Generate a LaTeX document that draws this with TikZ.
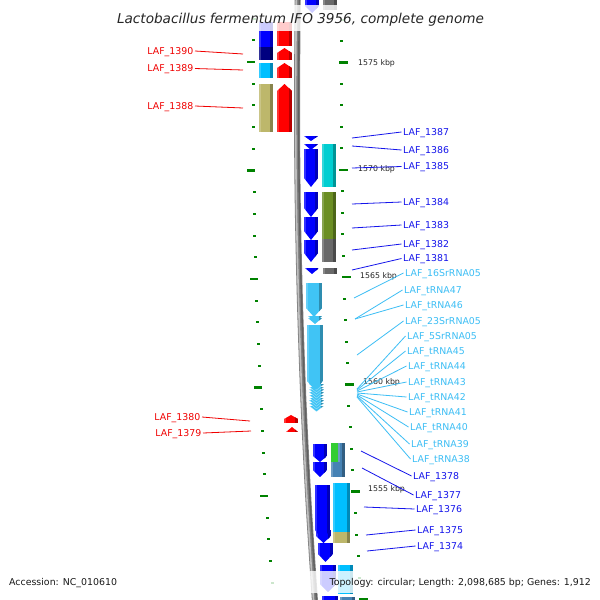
\documentclass[tikz,border=0pt]{standalone}
\usepackage{fontspec}
\setmainfont{DejaVu Sans}
\definecolor{genblue}{RGB}{0,0,255}
\definecolor{navyc}{RGB}{0,0,128}
\definecolor{dsb}{RGB}{0,191,255}
\definecolor{khakic}{RGB}{189,183,107}
\definecolor{turq}{RGB}{0,206,209}
\definecolor{olived}{RGB}{107,142,35}
\definecolor{dgray}{RGB}{105,105,105}
\definecolor{rnac}{RGB}{64,196,245}
\definecolor{greenc}{RGB}{50,205,50}
\definecolor{steel}{RGB}{70,130,180}
\definecolor{redc}{RGB}{255,0,0}
\definecolor{tickc}{RGB}{0,130,0}
\definecolor{labred}{RGB}{240,0,0}
\definecolor{labblue}{RGB}{20,20,235}
\definecolor{labcyan}{RGB}{60,190,245}
\definecolor{bbgray}{RGB}{128,128,128}
\newcommand{\gbox}[5]{%
  \fill[#5] (#1,#2) rectangle (#3,#4);
  \fill[#5!72!black] ({#3-3},#2) rectangle (#3,#4);
  \fill[white,opacity=0.2] (#1,#2) rectangle ({#1+2},#4);}
\newcommand{\garrdn}[6]{%
  \begin{scope}
    \clip (#1,#2) -- (#3,#2) -- (#3,{#4-#5}) -- ({(#1+#3)/2},#4) -- (#1,{#4-#5}) -- cycle;
    \fill[#6] (#1,#2) rectangle (#3,#4);
    \fill[#6!72!black] ({#3-3},#2) rectangle (#3,#4);
    \fill[white,opacity=0.2] (#1,#2) rectangle ({#1+2},#4);
  \end{scope}}
\newcommand{\garrup}[6]{%
  \begin{scope}
    \clip (#1,#4) -- (#3,#4) -- (#3,{#2+#5}) -- ({(#1+#3)/2},#2) -- (#1,{#2+#5}) -- cycle;
    \fill[#6] (#1,#2) rectangle (#3,#4);
    \fill[#6!72!black] ({#3-3},#2) rectangle (#3,#4);
    \fill[white,opacity=0.2] (#1,#2) rectangle ({#1+2},#4);
  \end{scope}}
\newcommand{\labfont}{\fontsize{9.4}{10}\selectfont}
\tikzset{
  lab/.style={font=\labfont, inner sep=1.5pt, text height=6.9pt, text depth=0pt},
  labR/.style={lab, text=labred, anchor=east},
  labB/.style={lab, text=labblue, anchor=west},
  labC/.style={lab, text=labcyan, anchor=west},
  ldR/.style={draw=labred, line width=0.8pt},
  ldB/.style={draw=labblue, line width=0.8pt},
  ldC/.style={draw=labcyan, line width=0.8pt},
  kbp/.style={font=\fontsize{7.8}{9}\selectfont, text=black!85, inner sep=0pt, anchor=west, text height=5.7pt, text depth=0pt},
  foot/.style={font=\labfont, text=black!90, inner sep=0pt},
  veil/.style={fill=white, opacity=0.8}
}
\begin{document}
\begin{tikzpicture}[x=1pt,y=-1pt]
\useasboundingbox (0,0) rectangle (600,600);
\fill[white] (0,0) rectangle (600,600);
\begin{scope}
\clip (0,0) rectangle (600,600);
% backbone
\draw[line width=6pt, bbgray] plot[smooth] coordinates {(297.8,-10) (297,100) (297.7,200) (299.9,300) (303.4,400) (308.4,500) (314.9,600) (316.5,615)};
\draw[line width=1.6pt, black!25, xshift=-1.4pt] plot[smooth] coordinates {(297.8,-10) (297,100) (297.7,200) (299.9,300) (303.4,400) (308.4,500) (314.9,600) (316.5,615)};
\draw[line width=1.4pt, black!62, xshift=1.6pt] plot[smooth] coordinates {(297.8,-10) (297,100) (297.7,200) (299.9,300) (303.4,400) (308.4,500) (314.9,600) (316.5,615)};
% ticks right column
\foreach \i in {0,...,27}{%
  \pgfmathsetmacro{\yy}{19.6+21.46*\i}%
  \pgfmathsetmacro{\dd}{(\yy-100)/100}%
  \pgfmathsetmacro{\xx}{340.5+0.8*\dd*\dd}%
  \pgfmathtruncatemacro{\mj}{mod(\i+3,5)}%
  \ifnum\mj=0
    \fill[tickc] ({\xx-1.5},{\yy-1.3}) rectangle ({\xx+7.5},{\yy+1.3});
  \else
    \fill[tickc] ({\xx-0.5},{\yy-1}) rectangle ({\xx+2.5},{\yy+1});
  \fi
}
% ticks left column
\foreach \i in {0,...,26}{%
  \pgfmathsetmacro{\yy}{18.6+21.7*\i}%
  \pgfmathsetmacro{\dd}{(\yy-100)/100}%
  \pgfmathsetmacro{\xx}{253+0.8*\dd*\dd}%
  \pgfmathtruncatemacro{\mj}{mod(\i+3,5)}%
  \ifnum\mj=0
    \fill[tickc] ({\xx-6},{\yy-1.3}) rectangle ({\xx+2},{\yy+1.3});
  \else
    \fill[tickc] ({\xx-1},{\yy-1}) rectangle ({\xx+2},{\yy+1});
  \fi
}
% left outer features
\gbox{259}{22}{273}{47}{genblue}
\gbox{259}{47}{273}{60}{navyc}
\gbox{259}{63}{273}{78}{dsb}
\gbox{259}{84}{273}{132}{khakic}
\gbox{277}{22}{292}{46}{redc}
\garrup{277}{48}{292}{60}{5}{redc}
\garrup{277}{63}{292}{78}{5}{redc}
\garrup{277}{84}{292}{132}{7}{redc}
\garrup{284}{415}{298}{423}{4}{redc}
\garrup{286}{427}{298}{432}{5}{redc}
% inner strand arrows
\garrdn{305}{-5}{319}{13}{7}{genblue}
\garrdn{304}{149}{318}{187}{9}{genblue}
\garrdn{304}{144}{318}{150}{6}{genblue}
\garrdn{304}{136}{318}{141}{5}{genblue}
\garrdn{304}{240}{318}{262}{9}{genblue}
\garrdn{304}{217}{318}{240}{9}{genblue}
\garrdn{304}{192}{318}{217}{9}{genblue}
\garrdn{305}{268}{319}{274}{6}{genblue}
% RNA features
\foreach \k in {8,7,...,0}{%
  \pgfmathsetmacro{\ta}{384+2.7*\k}%
  \pgfmathsetmacro{\tb}{\ta+6}%
  \garrdn{309}{\ta}{324}{\tb}{6}{rnac}
  \draw[white, opacity=0.45, line width=0.4pt] (309,\ta) -- (316.5,\tb) -- (324,\ta);
}
\garrdn{307}{325}{323}{390}{9}{rnac}
\garrdn{308}{318}{322}{324}{6}{rnac}
\garrdn{308}{316}{322}{322}{6}{rnac}
\garrdn{306}{283}{322}{317}{9}{rnac}
% lower inner arrows
\garrdn{322}{596}{338}{625}{8}{genblue}
\garrdn{320}{565}{336}{592}{8}{genblue}
\garrdn{318}{543}{333}{562}{8}{genblue}
\garrdn{316}{530}{331}{543}{7}{genblue}
\garrdn{315}{485}{330}{540}{10}{genblue}
\garrdn{313}{462}{327}{477}{7}{genblue}
\garrdn{313}{444}{327}{462}{6}{genblue}
% inner boxes
\gbox{323}{-5}{337}{10}{dgray}
\gbox{322}{144}{336}{187}{turq}
\gbox{322}{192}{336}{217}{olived}
\gbox{322}{217}{336}{239}{olived}
\gbox{322}{239}{336}{262}{dgray}
\gbox{323}{268}{337}{274}{dgray}
\fill[greenc] (331,443) rectangle (338,462);
\gbox{338}{443}{345}{462}{steel}
\gbox{331}{462}{345}{477}{steel}
\gbox{333}{483}{350}{532}{dsb}
\gbox{333}{532}{350}{543}{khakic}
\gbox{338}{565}{353}{594}{dsb}
\gbox{340}{597}{355}{612}{steel}
\end{scope}
% kbp labels
\node[kbp] (k1575) at (358,63) {1575 kbp};
\node[kbp] (k1570) at (358,169) {1570 kbp};
\node[kbp] (k1565) at (360,276) {1565 kbp};
\node[kbp] (k1560) at (363,382) {1560 kbp};
\node[kbp] (k1555) at (368,489) {1555 kbp};
% left red labels
\node[labR] (n1390) at (195,51) {LAF\_1390};
\node[labR] (n1389) at (195,68.5) {LAF\_1389};
\node[labR] (n1388) at (195,106) {LAF\_1388};
\node[labR] (n1380) at (202,417) {LAF\_1380};
\node[labR] (n1379) at (203,433) {LAF\_1379};
\coordinate (p1390) at (243,54);
\coordinate (p1389) at (243,70);
\coordinate (p1388) at (243,108);
\coordinate (p1380) at (250,421);
\coordinate (p1379) at (251,431);
\draw[ldR] (n1390.east) -- (p1390);
\draw[ldR] (n1389.east) -- (p1389);
\draw[ldR] (n1388.east) -- (p1388);
\draw[ldR] (n1380.east) -- (p1380);
\draw[ldR] (n1379.east) -- (p1379);
% right blue labels
\node[labB] (n1387) at (401.5,132) {LAF\_1387};
\node[labB] (n1386) at (401.5,150) {LAF\_1386};
\node[labB] (n1385) at (401.5,166.5) {LAF\_1385};
\node[labB] (n1384) at (401.5,202) {LAF\_1384};
\node[labB] (n1383) at (401.5,225) {LAF\_1383};
\node[labB] (n1382) at (401.5,244) {LAF\_1382};
\node[labB] (n1381) at (401.5,258.5) {LAF\_1381};
\node[labB] (n1378) at (411.5,476) {LAF\_1378};
\node[labB] (n1377) at (413.5,495) {LAF\_1377};
\node[labB] (n1376) at (414.5,509) {LAF\_1376};
\node[labB] (n1375) at (415.5,530) {LAF\_1375};
\node[labB] (n1374) at (415.5,546) {LAF\_1374};
\coordinate (p1387) at (352,138);
\coordinate (p1386) at (352,146);
\coordinate (p1385) at (352,168);
\coordinate (p1384) at (352,204);
\coordinate (p1383) at (352,228);
\coordinate (p1382) at (352,250);
\coordinate (p1381) at (352,270);
\coordinate (p1378) at (361,451);
\coordinate (p1377) at (362,468);
\coordinate (p1376) at (364,507);
\coordinate (p1375) at (366,535);
\coordinate (p1374) at (367,551);
\foreach \g in {1387,1386,1385,1384,1383,1382,1381,1378,1377,1376,1375,1374}{
  \draw[ldB] (p\g) -- (n\g.west);
}
% RNA labels
\node[labC] (r16S) at (403.5,273) {LAF\_16SrRNA05};
\node[labC] (rt47) at (402.5,290) {LAF\_tRNA47};
\node[labC] (rt46) at (403.5,305) {LAF\_tRNA46};
\node[labC] (r23S) at (403.5,321) {LAF\_23SrRNA05};
\node[labC] (r5S) at (405.5,336) {LAF\_5SrRNA05};
\node[labC] (rt45) at (405.5,351) {LAF\_tRNA45};
\node[labC] (rt44) at (406.5,366) {LAF\_tRNA44};
\node[labC] (rt43) at (406.5,382) {LAF\_tRNA43};
\node[labC] (rt42) at (406.5,397) {LAF\_tRNA42};
\node[labC] (rt41) at (407.5,412) {LAF\_tRNA41};
\node[labC] (rt40) at (408.5,427) {LAF\_tRNA40};
\node[labC] (rt39) at (409.5,444) {LAF\_tRNA39};
\node[labC] (rt38) at (410.5,459) {LAF\_tRNA38};
\coordinate (q16S) at (354,298);
\coordinate (qt47) at (355,319);
\coordinate (qt46) at (355,319);
\coordinate (q23S) at (357,355);
\coordinate (q5S) at (357,389);
\coordinate (qt45) at (357,390);
\coordinate (qt44) at (357,391);
\coordinate (qt43) at (357,392);
\coordinate (qt42) at (357,393);
\coordinate (qt41) at (357,394);
\coordinate (qt40) at (357,395);
\coordinate (qt39) at (357,396);
\coordinate (qt38) at (357,397);
\draw[ldC] (q16S) -- (r16S.west);
\draw[ldC] (q23S) -- (r23S.west);
\draw[ldC] (q5S) -- (r5S.west);
\foreach \g in {47,46,45,44,43,42,41,40,39,38}{
  \draw[ldC] (qt\g) -- (rt\g.west);
}
% title and footer
\fill[veil] (115,5) rectangle (487,31);
\fill[veil] (6,571) rectangle (119,593);
\fill[veil] (258,571) rectangle (594,593);
\node[font=\fontsize{13.6}{15}\selectfont\itshape, text=black!85, inner sep=0pt, anchor=base] (title) at (300.5,23.5) {Lactobacillus fermentum IFO 3956, complete genome};
\node[foot, anchor=base west] (acc) at (9,585.5) {Accession: NC\_010610};
\node[foot, anchor=base east] (topo) at (591,585.5) {Topology: circular; Length: 2,098,685 bp; Genes: 1,912};
\end{tikzpicture}
\end{document}
